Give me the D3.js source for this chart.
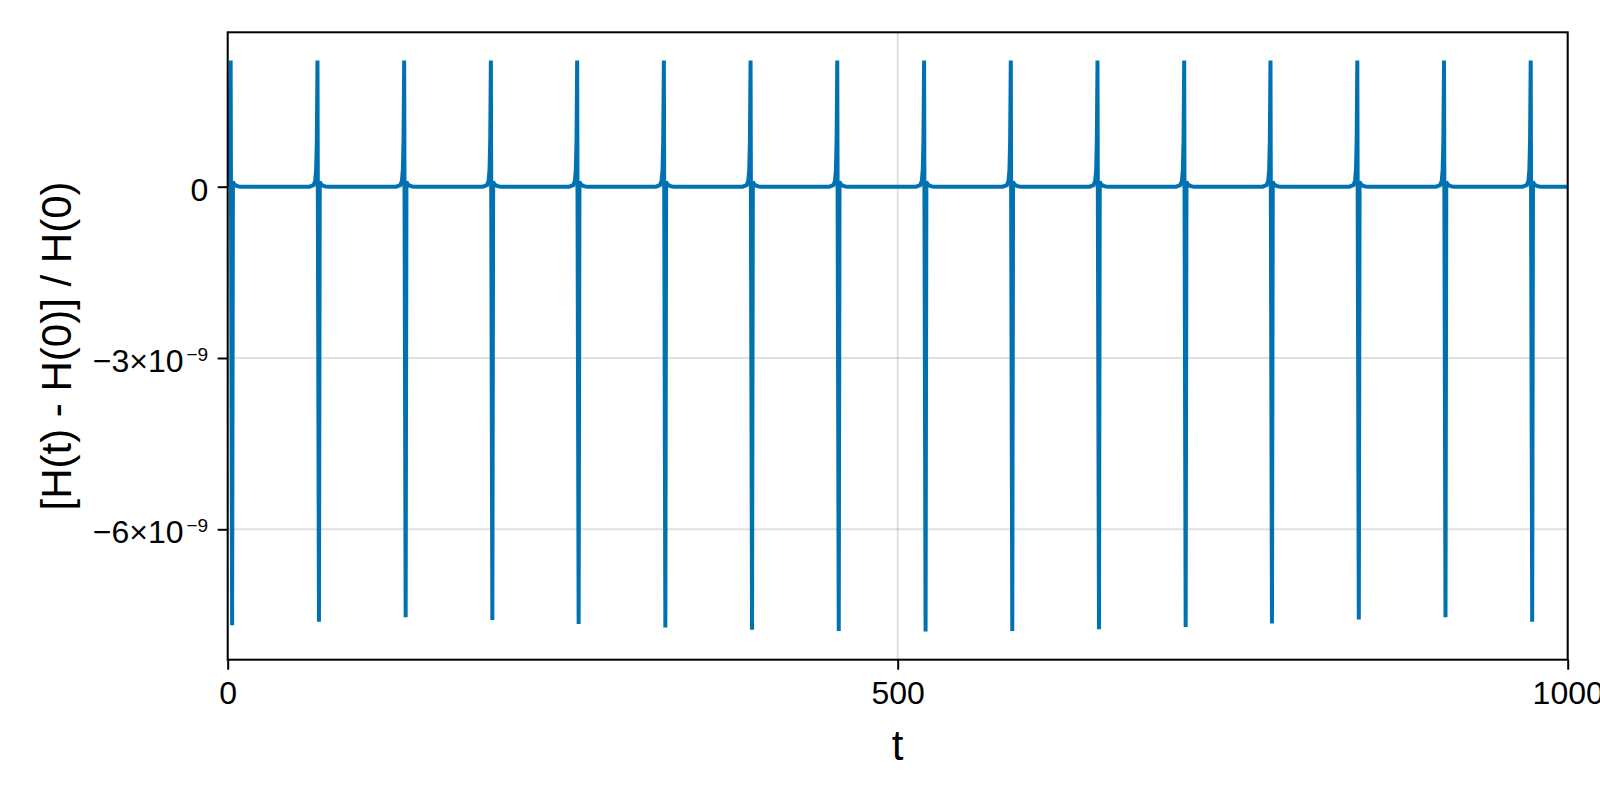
<!DOCTYPE html>
<html><head><meta charset="utf-8">
<script src="https://cdn.jsdelivr.net/npm/d3@7"></script>
<style>body{margin:0;background:#fff} text{font-family:"Liberation Sans",Arial,Helvetica,sans-serif}</style>
</head><body><svg id="c" width="1600" height="800"></svg>
<script>
// ---- data ----
const xTicks = [0, 500, 1000];
const yTicks = [0, -3e-9, -6e-9];
const yTickMantissa = ["0", "−3×10", "−6×10"];
const yTickExponent = ["", "−9", "−9"];
const xDomain = [0, 1000];
const yDomain = [-8.284e-9, 2.704e-9];
// times of the close-passage spikes
const spikeTimes = [3.3, 68.1, 132.8, 197.5, 261.9, 326.6, 391.3, 456.0, 520.8, 585.5, 650.2, 714.9, 779.3, 844.1, 908.8, 973.5];
// upward peak of each spike (×1e-9)
const spikePeaks = [2.21, 2.21, 2.21, 2.21, 2.21, 2.21, 2.21, 2.21, 2.21, 2.21, 2.21, 2.21, 2.21, 2.21, 2.21, 2.21];
// downward trough of each spike (×1e-9)
const spikeTroughs = [-7.68, -7.62, -7.54, -7.59, -7.66, -7.72, -7.76, -7.78, -7.79, -7.78, -7.75, -7.71, -7.65, -7.58, -7.54, -7.62];
// shape of the flanks around a spike: time offsets and values (×1e-9)
const riseOffsets = [-7, -4, -2.8, -2.1, -1.6];
const riseValues  = [0, 0.03, 0.10, 0.30, 0.80];
const peakOffset = -1.1;
const troughOffset = 0;
const fallOffsets = [0.6, 1.3, 2.2, 3.5, 5, 7];
const fallValues  = [0.09, 0.05, 0.03, 0.015, 0.005, 0];
const seriesStart = [0, 0];
const seriesEnd = [1000, 0];

// ---- build series points ----
const pts = [{t: seriesStart[0], v: seriesStart[1]}];
spikeTimes.forEach((t0, i) => {
  riseOffsets.forEach((o, k) => pts.push({t: t0 + o, v: riseValues[k] * 1e-9}));
  pts.push({t: t0 + peakOffset, v: spikePeaks[i] * 1e-9});
  pts.push({t: t0 + troughOffset, v: spikeTroughs[i] * 1e-9});
  fallOffsets.forEach((o, k) => pts.push({t: t0 + o, v: fallValues[k] * 1e-9}));
});
pts.push({t: seriesEnd[0], v: seriesEnd[1]});
const data = pts.filter(p => p.t >= 0 && p.t <= 1000);

// ---- layout ----
const L = 227.7, R = 1567.7, T = 32.3, B = 659.7;
const svg = d3.select("#c");
svg.append("rect").attr("width", 1600).attr("height", 800).attr("fill", "#fff");
const x = d3.scaleLinear().domain(xDomain).range([L, R]);
const y = d3.scaleLinear().domain(yDomain).range([B, T]);

// grid
const grid = svg.append("g");
grid.selectAll(".gx").data(xTicks).join("line")
  .attr("x1", d => x(d)).attr("x2", d => x(d)).attr("y1", T).attr("y2", B)
  .attr("stroke", "rgba(0,0,0,0.12)").attr("stroke-width", 2);
grid.selectAll(".gy").data(yTicks).join("line")
  .attr("y1", d => y(d)).attr("y2", d => y(d)).attr("x1", L).attr("x2", R)
  .attr("stroke", "rgba(0,0,0,0.12)").attr("stroke-width", 2);

// clip + line
svg.append("clipPath").attr("id", "clip").append("rect")
  .attr("x", L).attr("y", T).attr("width", R - L).attr("height", B - T);
const line = d3.line().x(d => x(d.t)).y(d => y(d.v));
svg.append("path").datum(data).attr("clip-path", "url(#clip)")
  .attr("d", line).attr("fill", "none").attr("stroke", "#0072b2")
  .attr("stroke-width", 4).attr("stroke-linejoin", "miter").attr("stroke-linecap", "butt");

// spines
svg.append("rect").attr("x", L).attr("y", T).attr("width", R - L).attr("height", B - T)
  .attr("fill", "none").attr("stroke", "#000").attr("stroke-width", 2);

// x axis
const xAxis = svg.append("g").attr("transform", `translate(0,${B})`)
  .call(d3.axisBottom(x).tickValues(xTicks).tickSize(10).tickPadding(12).tickFormat(d3.format("d")));
xAxis.select(".domain").remove();
xAxis.selectAll(".tick line").attr("stroke", "#000").attr("stroke-width", 2);
xAxis.selectAll(".tick text").attr("font-size", 32).attr("fill", "#000")
  .attr("font-family", "Liberation Sans, Arial, sans-serif");

// y axis
const yAxis = svg.append("g").attr("transform", `translate(${L},0)`)
  .call(d3.axisLeft(y).tickValues(yTicks).tickSize(10).tickPadding(10).tickFormat(""));
yAxis.select(".domain").remove();
yAxis.selectAll(".tick line").attr("stroke", "#000").attr("stroke-width", 2);
yAxis.selectAll(".tick text").each(function(d, i) {
  const t = d3.select(this).attr("font-size", 32).attr("fill", "#000")
    .attr("font-family", "Liberation Sans, Arial, sans-serif")
    .attr("dy", null).attr("y", 13.7).attr("x", -19.5).attr("text-anchor", "end");
  t.append("tspan").text(yTickMantissa[i]);
  if (yTickExponent[i]) {
    t.append("tspan").attr("font-size", 19).attr("dx", 3).attr("dy", -11).text(yTickExponent[i]);
  }
});

// axis labels
svg.append("text").attr("x", (L + R) / 2).attr("y", 760).attr("text-anchor", "middle")
  .attr("font-size", 42).attr("fill", "#000").text("t");
svg.append("text").attr("transform", `translate(71,${(T + B) / 2}) rotate(-90)`)
  .attr("text-anchor", "middle").attr("font-size", 42).attr("fill", "#000")
  .text("[H(t) - H(0)] / H(0)");
</script></body></html>
